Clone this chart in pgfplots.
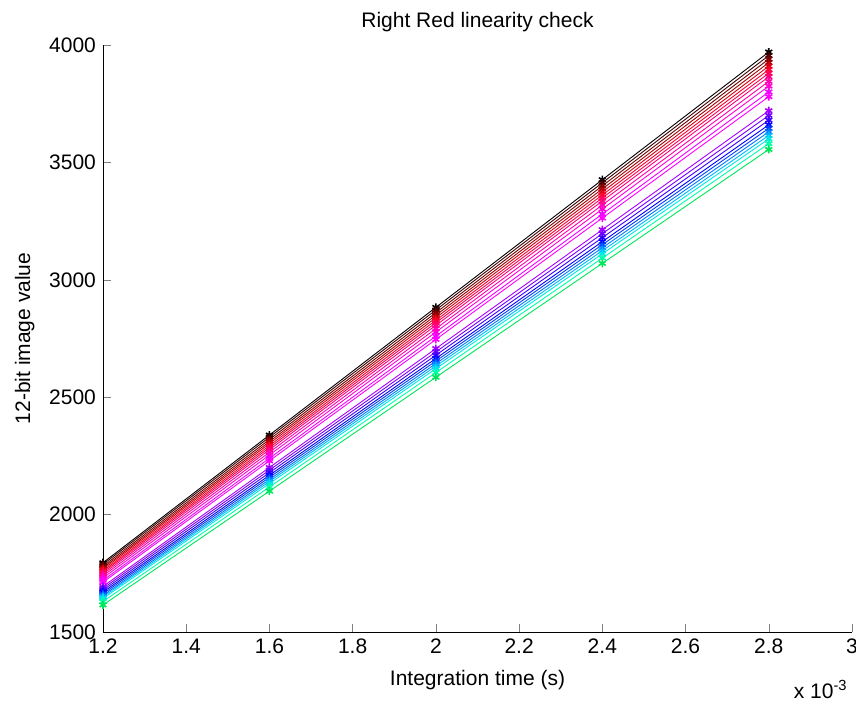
\documentclass[border=0pt]{standalone}
\usepackage{pgfplots}
\pgfplotsset{compat=1.18}
\usepackage{fontspec}
\setmainfont{Liberation Sans}

% line colours, black -> red -> magenta -> blue -> cyan -> green
\definecolor{c1}{RGB}{0,0,0}
\definecolor{c2}{RGB}{60,0,0}
\definecolor{c3}{RGB}{110,0,0}
\definecolor{c4}{RGB}{160,0,0}
\definecolor{c5}{RGB}{210,0,20}
\definecolor{c6}{RGB}{255,0,40}
\definecolor{c7}{RGB}{255,0,80}
\definecolor{c8}{RGB}{255,0,120}
\definecolor{c9}{RGB}{255,0,170}
\definecolor{c10}{RGB}{255,0,210}
\definecolor{c11}{RGB}{240,0,255}
\definecolor{c12}{RGB}{255,0,255}
\definecolor{c13}{RGB}{170,0,255}
\definecolor{c14}{RGB}{120,0,255}
\definecolor{c15}{RGB}{60,0,255}
\definecolor{c16}{RGB}{0,0,255}
\definecolor{c17}{RGB}{0,60,255}
\definecolor{c18}{RGB}{0,120,255}
\definecolor{c19}{RGB}{0,180,255}
\definecolor{c20}{RGB}{0,230,230}
\definecolor{c21}{RGB}{0,255,170}
\definecolor{c22}{RGB}{0,230,90}

\begin{document}
\begin{tikzpicture}
\begin{axis}[
scale only axis,
width=374.5pt,
height=293.5pt,
xmin=1.2, xmax=3,
ymin=1500, ymax=4000,
xtick={1.2,1.4,...,3.01},
ytick={1500,2000,...,4000},
axis x line*=bottom,
axis y line*=left,
tick align=inside,
major tick length=4pt,
/pgf/number format/assume math mode=true,
/pgf/number format/1000 sep={},
ticklabel style={font=\fontsize{10.5}{12}\selectfont},
label style={font=\fontsize{10.5}{12}\selectfont},
title style={font=\fontsize{10.5}{12}\selectfont, yshift=-3pt},
title={Right Red linearity check},
xlabel={Integration time (s)},
ylabel={12-bit image value},
xlabel style={yshift=-1.5pt},
ylabel style={yshift=0.5pt},
every axis plot/.append style={line width=0.45pt, mark=asterisk, mark size=2pt,
  mark options={line width=0.8pt}},
]
\addplot[c1]  coordinates {(1.2,1795) (1.6,2338.75) (2.0,2882.5) (2.4,3426.25) (2.8,3970)};
\addplot[c2]  coordinates {(1.2,1788) (1.6,2329.75) (2.0,2871.5) (2.4,3413.25) (2.8,3955)};
\addplot[c3]  coordinates {(1.2,1780) (1.6,2320) (2.0,2860) (2.4,3400) (2.8,3940)};
\addplot[c4]  coordinates {(1.2,1773) (1.6,2311) (2.0,2849) (2.4,3387) (2.8,3925)};
\addplot[c5]  coordinates {(1.2,1767) (1.6,2302.75) (2.0,2838.5) (2.4,3374.25) (2.8,3910)};
\addplot[c6]  coordinates {(1.2,1760) (1.6,2293.75) (2.0,2827.5) (2.4,3361.25) (2.8,3895)};
\addplot[c7]  coordinates {(1.2,1754) (1.6,2285.5) (2.0,2817) (2.4,3348.5) (2.8,3880)};
\addplot[c8]  coordinates {(1.2,1747) (1.6,2276.5) (2.0,2806) (2.4,3335.5) (2.8,3865)};
\addplot[c9]  coordinates {(1.2,1739) (1.6,2265.5) (2.0,2792) (2.4,3318.5) (2.8,3845)};
\addplot[c10] coordinates {(1.2,1730) (1.6,2253.75) (2.0,2777.5) (2.4,3301.25) (2.8,3825)};
\addplot[c11] coordinates {(1.2,1720) (1.6,2240) (2.0,2760) (2.4,3280) (2.8,3800)};
\addplot[c12] coordinates {(1.2,1712) (1.6,2229) (2.0,2746) (2.4,3263) (2.8,3780)};
\addplot[c13] coordinates {(1.2,1694) (1.6,2200.5) (2.0,2707) (2.4,3213.5) (2.8,3720)};
\addplot[c14] coordinates {(1.2,1686) (1.6,2189.5) (2.0,2693) (2.4,3196.5) (2.8,3700)};
\addplot[c15] coordinates {(1.2,1678) (1.6,2178.5) (2.0,2679) (2.4,3179.5) (2.8,3680)};
\addplot[c16] coordinates {(1.2,1670) (1.6,2167.5) (2.0,2665) (2.4,3162.5) (2.8,3660)};
\addplot[c17] coordinates {(1.2,1663) (1.6,2158.5) (2.0,2654) (2.4,3149.5) (2.8,3645)};
\addplot[c18] coordinates {(1.2,1656) (1.6,2149.5) (2.0,2643) (2.4,3136.5) (2.8,3630)};
\addplot[c19] coordinates {(1.2,1650) (1.6,2141.25) (2.0,2632.5) (2.4,3123.75) (2.8,3615)};
\addplot[c20] coordinates {(1.2,1643) (1.6,2132.25) (2.0,2621.5) (2.4,3110.75) (2.8,3600)};
\addplot[c21] coordinates {(1.2,1630) (1.6,2117.5) (2.0,2605) (2.4,3092.5) (2.8,3580)};
\addplot[c22] coordinates {(1.2,1615) (1.6,2100) (2.0,2585) (2.4,3070) (2.8,3555)};
\end{axis}
\node[anchor=north east, font=\fontsize{10.5}{12}\selectfont, inner sep=0pt]
  at ([xshift=-2pt, yshift=-24pt]current axis.south east) {x 10\textsuperscript{-3}};
\pgfresetboundingbox
\path (current axis.south west) ++(-51.5pt,-36.5pt) rectangle ++(428pt,352.5pt);
\end{tikzpicture}
\end{document}
